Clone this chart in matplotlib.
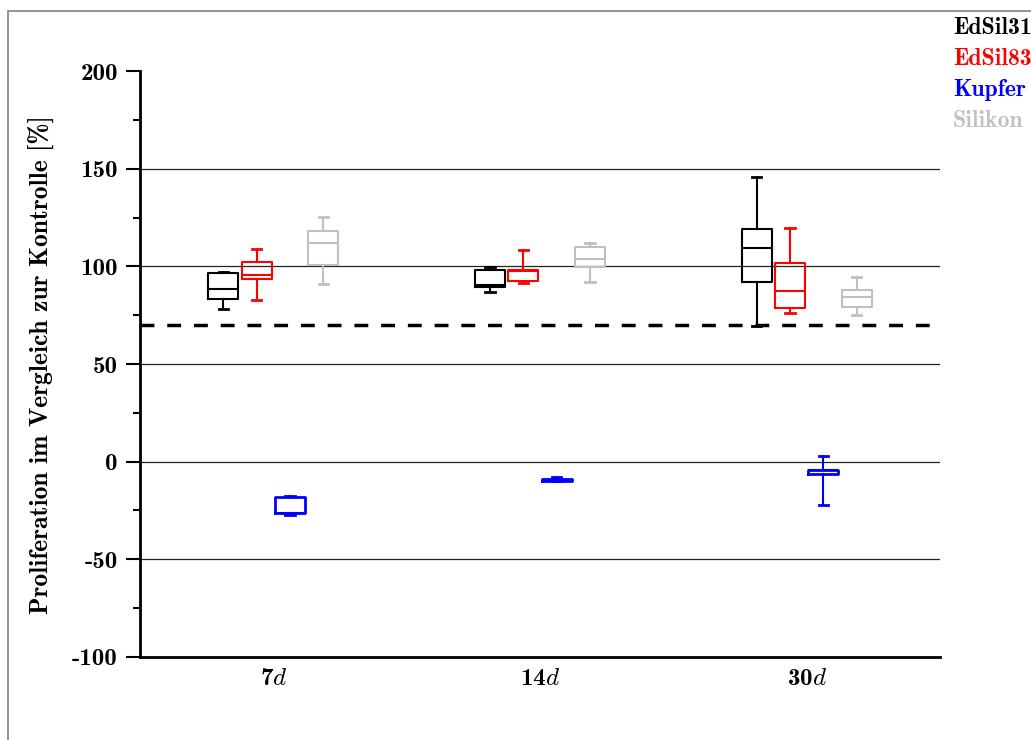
import matplotlib
matplotlib.use("Agg")
import matplotlib.pyplot as plt
from matplotlib.patches import Rectangle
from matplotlib.ticker import MultipleLocator

plt.rcParams["mathtext.fontset"] = "cm"
plt.rcParams["font.family"] = "cmb10"
plt.rcParams["axes.unicode_minus"] = False

# Data: box statistics per series, one value per time point
days = ["7", "14", "30"]
series = ["EdSil31", "EdSil83", "Kupfer", "Silikon"]
colors = ["#000000", "#ff0000", "#0000ff", "#c0c0c0"]

whislo = {
    "EdSil31": [78.3, 86.9, 69.6],
    "EdSil83": [82.9, 91.3, 76.0],
    "Kupfer": [-27.5, -10.0, -22.2],
    "Silikon": [90.8, 91.9, 75.1],
}
q1 = {
    "EdSil31": [83.1, 89.3, 92.0],
    "EdSil83": [93.7, 92.4, 78.9],
    "Kupfer": [-26.1, -9.8, -6.3],
    "Silikon": [100.9, 99.9, 79.2],
}
med = {
    "EdSil31": [88.3, 90.3, 109.6],
    "EdSil83": [95.8, 97.6, 87.6],
    "Kupfer": [-26.1, -9.3, -4.3],
    "Silikon": [112.0, 103.6, 84.2],
}
q3 = {
    "EdSil31": [96.5, 98.2, 119.3],
    "EdSil83": [102.1, 98.3, 101.6],
    "Kupfer": [-17.9, -8.8, -4.3],
    "Silikon": [118.1, 109.8, 87.8],
}
whishi = {
    "EdSil31": [97.3, 99.9, 145.8],
    "EdSil83": [109.1, 108.2, 119.5],
    "Kupfer": [-17.4, -7.8, 2.8],
    "Silikon": [125.5, 111.8, 94.6],
}

threshold = 70

fig = plt.figure(figsize=(10.31, 7.40), dpi=100)
ax = fig.add_axes([0.1358, 0.1122, 0.7759, 0.7918])

offsets = [-0.1875, -0.0625, 0.0625, 0.1875]
for k, name in enumerate(series):
    c = colors[k]
    stats = []
    for i in range(len(days)):
        stats.append(dict(whislo=whislo[name][i], q1=q1[name][i], med=med[name][i],
                          q3=q3[name][i], whishi=whishi[name][i], fliers=[]))
    pos = [i + 1 + offsets[k] for i in range(len(days))]
    lw = 2.0 if name == "Kupfer" else 1.5
    ax.bxp(stats, positions=pos, widths=0.1125, capwidths=0.035, showfliers=False,
           manage_ticks=False,
           boxprops=dict(color=c, lw=lw),
           whiskerprops=dict(color=c, lw=1.5),
           capprops=dict(color=c, lw=2.0),
           medianprops=dict(color=c, lw=1.5),
           zorder=3)

ax.axhline(threshold, color="black", lw=2.5, ls=(0, (4, 3.7)), zorder=4)

for g in [150, 100, 50, 0, -50]:
    ax.axhline(g, color="#222222", lw=0.9, zorder=1)

ax.set_xlim(0.5, 3.5)
ax.set_ylim(-100, 200)
ax.spines["top"].set_visible(False)
ax.spines["right"].set_visible(False)
ax.spines["left"].set_linewidth(2)
ax.spines["bottom"].set_linewidth(2)

ax.yaxis.set_major_locator(MultipleLocator(50))
ax.yaxis.set_minor_locator(MultipleLocator(25))
yt = [-100, -50, 0, 50, 100, 150, 200]
ax.set_yticks(yt)
ax.set_yticklabels([str(v) for v in yt], fontsize=18)
ax.tick_params(axis="y", which="major", direction="out", length=10, width=1.5, pad=6)
ax.tick_params(axis="y", which="minor", direction="out", length=5, width=1.5)

ax.set_xticks([1, 2, 3])
ax.set_xticklabels([r"%s$\mathit{d}$" % d for d in days], fontsize=18)
ax.tick_params(axis="x", length=0, pad=8)

fig.text(42 / 1031, 1 - 365 / 740, "Proliferation im Vergleich zur Kontrolle [%]",
         rotation=90, ha="center", va="center", fontsize=18.4)

for k, name in enumerate(series):
    fig.text(953 / 1031, 1 - (28 + 31 * k) / 740, name,
             color=colors[k], ha="left", va="center", fontsize=17)

# outer frame
fig.add_artist(Rectangle((8 / 1031, -0.1), 1.2, 1 - 11 / 740 + 0.1, transform=fig.transFigure,
                         fill=False, ec="#808080", lw=1.2))

fig.savefig("out.png", dpi=100)
